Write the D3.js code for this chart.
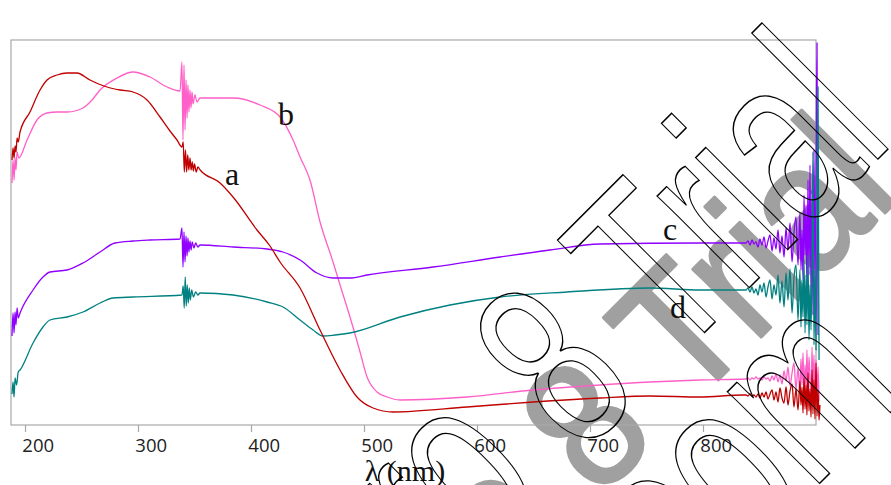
<!DOCTYPE html>
<html>
<head>
<meta charset="utf-8">
<script src="https://cdn.jsdelivr.net/npm/d3@7"></script>
<style>
  body { margin: 0; background: #fff; }
  svg { display: block; }
</style>
</head>
<body>
<svg id="chart" width="891" height="485"></svg>
<script>
// UV-vis absorption spectra of samples a-d (absorbance, arbitrary units)
const xTicks = [200, 300, 400, 500, 600, 700, 800];
const seriesNames = ["a", "b", "c", "d"];

// main part of each spectrum
const aWl = [188.5,189.4,190.3,191.2,192.0,193.0,194.0,195.6,204.4,213.3,219.5,228.3,237.2,246.0,257.5,272.6,284.1,295.6,308.0,319.5,328.3,334.5,338.9,
  340.0,341.0,342.0,343.0,344.0,345.0,346.0,347.0,348.0,349.0,350.0,351.5,353.0,355.0,
  372.6,384.1,405.3,416.8,425.7,443.4,461.1,478.8,493.8,508.0,525.7,591.2,649.6,708.8,753.1,797.3,835.4];
const aAbs = [2.65,2.77,2.67,2.79,2.73,2.87,2.83,2.93,3.13,3.35,3.45,3.50,3.52,3.52,3.45,3.38,3.35,3.33,3.25,3.08,2.94,2.85,2.78,
  2.83,2.53,2.75,2.53,2.70,2.55,2.67,2.55,2.63,2.54,2.61,2.53,2.58,2.55,
  2.42,2.28,1.95,1.79,1.63,1.37,0.95,0.55,0.28,0.17,0.13,0.18,0.23,0.27,0.29,0.28,0.30];

const bWl = [188.5,189.4,190.3,191.2,192.0,193.0,194.5,201.8,210.6,219.5,228.3,237.2,251.3,259.3,266.4,281.4,295.6,310.6,325.7,337.2,
  338.9,339.8,340.7,341.6,342.5,343.4,344.2,345.1,346.0,346.9,347.8,348.7,350.4,352.2,354.9,
  384.1,408.0,425.7,437.2,443.4,452.2,461.1,472.6,478.8,487.6,496.5,502.7,511.5,520.4,531.9,591.2,649.6,708.8,753.1,797.3];
const bAbs = [2.42,2.65,2.45,2.67,2.55,2.73,2.67,2.85,3.05,3.12,3.13,3.13,3.17,3.25,3.35,3.47,3.53,3.48,3.38,3.34,
  3.63,2.85,3.60,2.95,3.45,3.07,3.40,3.13,3.35,3.17,3.33,3.21,3.30,3.23,3.27,
  3.27,3.20,3.08,2.85,2.68,2.45,2.03,1.63,1.40,1.08,0.73,0.48,0.33,0.28,0.25,0.28,0.35,0.40,0.43,0.45];

const cWl = [188.5,189.4,190.3,191.2,192.0,193.0,194.0,195.6,207.1,215.9,222.1,237.2,251.3,266.4,279.6,295.6,310.6,337.2,
  338.9,339.8,340.7,341.6,342.5,343.4,344.2,345.1,346.0,347.0,348.0,349.5,351.0,353.0,354.9,
  384.1,414.2,428.3,443.4,458.4,472.6,487.6,502.7,561.1,620.4,664.6,708.8,797.3,835.4];
const cAbs = [0.89,1.12,0.92,1.13,1.00,1.17,1.07,1.12,1.35,1.48,1.53,1.55,1.62,1.73,1.82,1.84,1.85,1.86,
  1.97,1.58,1.93,1.63,1.89,1.69,1.87,1.73,1.84,1.75,1.83,1.77,1.82,1.78,1.80,
  1.78,1.76,1.73,1.65,1.52,1.47,1.47,1.50,1.58,1.68,1.75,1.81,1.82,1.82];

const dWl = [188.5,189.4,190.3,191.2,192.5,194.0,195.6,207.1,215.9,222.1,237.2,251.3,266.4,277.9,295.6,338.9,
  340.0,340.9,341.8,342.7,343.6,344.5,345.4,346.3,347.5,349.0,351.0,353.0,354.9,
  384.1,414.2,428.3,443.4,454.9,463.7,474.3,487.6,531.9,576.1,620.4,679.6,753.1,797.3,835.4];
const dAbs = [0.31,0.43,0.28,0.47,0.40,0.53,0.55,0.82,0.98,1.05,1.08,1.13,1.22,1.27,1.28,1.30,
  1.39,1.17,1.48,1.19,1.40,1.22,1.37,1.25,1.35,1.28,1.33,1.30,1.32,
  1.30,1.23,1.18,1.05,0.95,0.89,0.90,0.92,1.08,1.20,1.28,1.33,1.37,1.35,1.35];

// noisy long-wavelength end, shared wavelength grid
const tailWl = [838.1,839.8,841.6,843.4,845.1,846.9,848.7,850.4,852.2,854.0,855.8,857.5,859.3,861.1,862.8,864.6,866.4,868.1,869.9,871.7,873.5,875.2,877.0,878.8,880.5,882.3,884.1,885.8,
  886.7,887.6,888.5,889.4,890.3,891.2,892.0,892.9,893.8,894.7,895.6,896.5,897.3,898.2,899.1,900.0,900.9,901.8,902.7,903.5];
const aTail = [0.30,0.29,0.31,0.29,0.30,0.28,0.31,0.27,0.32,0.28,0.33,0.26,0.31,0.35,0.25,0.33,0.23,0.37,0.27,0.22,0.38,0.20,0.34,0.41,0.18,0.36,0.15,0.44,
  0.20,0.38,0.12,0.47,0.16,0.40,0.10,0.52,0.14,0.36,0.08,0.55,0.11,0.45,0.06,0.62,0.09,0.35,0.05,0.20];
const bTail = [0.46,0.47,0.45,0.47,0.46,0.48,0.46,0.47,0.45,0.48,0.46,0.47,0.44,0.49,0.45,0.51,0.43,0.50,0.41,0.54,0.44,0.58,0.39,0.52,0.62,0.36,0.57,0.33,
  0.66,0.40,0.72,0.30,0.60,0.35,0.75,0.28,0.68,0.45,0.25,0.78,0.30,0.70,0.22,0.65,0.26,0.58,0.24];
const cTail = [1.82,1.84,1.80,1.85,1.81,1.83,1.78,1.86,1.80,1.88,1.77,1.84,1.90,1.74,1.87,1.76,1.95,1.72,1.89,1.68,1.97,1.75,2.02,1.63,1.92,2.08,1.60,2.12,
  1.55,1.95,1.45,2.30,1.70,2.20,1.35,2.45,1.50,2.60,1.25,2.35,1.10,2.75,1.40,2.50,3.82,0.90];
const dTail = [1.35,1.37,1.33,1.38,1.32,1.36,1.30,1.40,1.33,1.42,1.28,1.38,1.45,1.26,1.40,1.30,1.50,1.22,1.44,1.18,1.52,1.25,1.56,1.12,1.47,1.60,1.05,1.55,
  0.98,1.45,1.08,1.65,0.92,1.50,1.00,1.70,0.85,1.40,0.95,1.60,2.73,0.80,1.55,0.75,2.25,3.38,0.65];

const svg = d3.select("#chart");
const x = d3.scaleLinear().domain([187.6, 900]).range([11, 816]);
const y = d3.scaleLinear().domain([0, 3.85]).range([425, 40]);
const [x0, x1] = x.range();
const [yb, yt] = y.range();

// shaded watermark layer (behind the spectra)
const wm = svg.append("g").attr("class", "watermark-fill")
  .attr("font-family", "'Liberation Sans', Arial, sans-serif")
  .attr("font-size", 158)
  .attr("fill", "#a0a0a0")
  .attr("stroke", "#a0a0a0")
  .attr("stroke-width", 3)
  .attr("stroke-linejoin", "round");
wm.append("text")
  .attr("transform", "translate(598,500) rotate(-45) scale(1,1.15)")
  .attr("vector-effect", "non-scaling-stroke")
  .text("8 Trial");
wm.append("text")
  .attr("transform", "translate(598,500) rotate(-45) scale(1,1.15)")
  .attr("text-anchor", "end")
  .attr("x", -44)
  .attr("vector-effect", "non-scaling-stroke")
  .text("OriginPro");

// plot frame
svg.append("rect")
  .attr("x", x0).attr("y", yt)
  .attr("width", x1 - x0).attr("height", yb - yt)
  .attr("fill", "none").attr("stroke", "#a8a8a8").attr("stroke-width", 1.2);

// bottom axis
const axis = d3.axisBottom(x).tickValues(xTicks).tickSize(7).tickSizeOuter(0);
const gx = svg.append("g").attr("transform", `translate(0,${yb})`).call(axis);
gx.select(".domain").remove();
gx.selectAll(".tick line").attr("stroke", "#a8a8a8").attr("stroke-width", 1.2);
gx.selectAll(".tick text")
  .attr("font-family", "'Open Sans', 'Noto Sans', sans-serif")
  .attr("font-size", 18.5)
  .attr("fill", "#222")
  .attr("y", 27).attr("dy", 0).attr("dx", 12.7);

// axis title
svg.append("text")
  .attr("x", 405).attr("y", 481)
  .attr("text-anchor", "middle")
  .attr("font-family", "'Liberation Serif', 'Times New Roman', serif")
  .attr("font-size", 30)
  .attr("fill", "#111")
  .text("λ (nm)");

// spectra
const line = d3.line()
  .x(d => x(d[0]))
  .y(d => y(d[1]))
  .curve(d3.curveMonotoneX);

const series = [
  { wl: bWl, abs: bAbs, tail: bTail, color: "#ff5fc8" },
  { wl: cWl, abs: cAbs, tail: cTail, color: "#9000ff" },
  { wl: dWl, abs: dAbs, tail: dTail, color: "#008080" },
  { wl: aWl, abs: aAbs, tail: aTail, color: "#c00000" }
];
svg.append("g").attr("class", "spectra")
  .selectAll("path")
  .data(series)
  .join("path")
  .attr("d", s => line(d3.zip(s.wl, s.abs).concat(d3.zip(tailWl, s.tail))))
  .attr("fill", "none")
  .attr("stroke", s => s.color)
  .attr("stroke-width", 1.3)
  .attr("stroke-linejoin", "round");

// curve labels, placed in data coordinates
const labelAt = [[383.2, 2.40], [431.0, 3.00], [770.8, 1.85], [777.9, 1.07]];
svg.append("g")
  .attr("font-family", "'Liberation Serif', 'Times New Roman', serif")
  .attr("font-size", 32)
  .attr("fill", "#111")
  .attr("text-anchor", "middle")
  .selectAll("text")
  .data(seriesNames)
  .join("text")
  .attr("x", (d, i) => x(labelAt[i][0]))
  .attr("y", (d, i) => y(labelAt[i][1]))
  .text(d => d);

// outlined watermark layer (on top)
const wo = svg.append("g").attr("class", "watermark-outline")
  .attr("font-family", "'Liberation Sans', Arial, sans-serif")
  .attr("font-size", 164)
  .attr("fill", "none")
  .attr("stroke", "#000")
  .attr("stroke-width", 1.3);
wo.append("text")
  .attr("transform", "translate(580,457) rotate(-45) scale(1,1.5)")
  .attr("vector-effect", "non-scaling-stroke")
  .text("8 Trial");
wo.append("text")
  .attr("transform", "translate(580,457) rotate(-45) scale(1,1.5)")
  .attr("text-anchor", "end")
  .attr("x", -46)
  .attr("vector-effect", "non-scaling-stroke")
  .text("OriginPro");
wo.append("text")
  .attr("transform", "translate(908,395) rotate(-45) scale(1,1.5)")
  .attr("text-anchor", "end")
  .attr("vector-effect", "non-scaling-stroke")
  .text("www.originlab.com");
</script>
</body>
</html>
